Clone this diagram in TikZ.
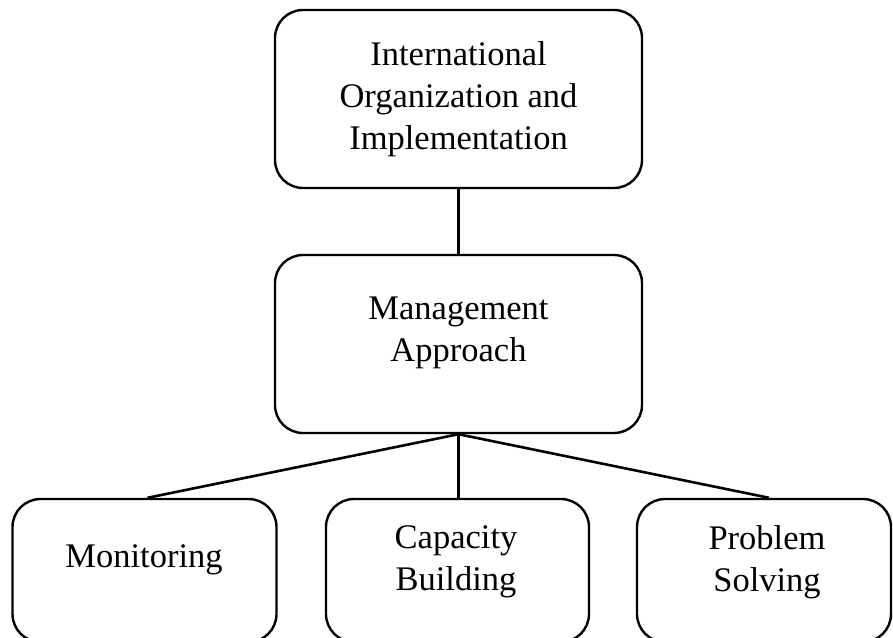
\documentclass[tikz,border=0pt]{standalone}
\usepackage{fontspec}
\setmainfont{Liberation Serif}
\begin{document}
\begin{tikzpicture}[x=1pt,y=-1pt,
  box/.style={draw, line width=2.4pt, rounded corners=28pt, inner sep=0pt},
  txt/.style={align=center, font=\fontsize{34.5}{42}\selectfont, inner sep=0pt},
  conn/.style={line width=2.6pt}]
\useasboundingbox (0,0) rectangle (893,637);
\node[box, minimum width=367pt, minimum height=178pt] (top) at (458.5,99) {};
\node[box, minimum width=367pt, minimum height=178pt] (mid) at (458.5,344) {};
\node[box, minimum width=264pt, minimum height=143pt] (bl) at (144.5,570.5) {};
\node[box, minimum width=263pt, minimum height=143pt] (bm) at (457.5,570.5) {};
\node[box, minimum width=254pt, minimum height=143pt] (br) at (764,570.5) {};
\node[txt] (ttop) at (458.5,99) {International\\Organization and\\Implementation};
\node[txt] (tmid) at (458.5,333) {Management\\Approach};
\node[txt] (tbl) at (144,560) {Monitoring};
\node[txt] (tbm) at (456,562) {Capacity\\Building};
\node[txt] (tbr) at (767,562) {Problem\\Solving};
\draw[conn] (top.south) -- (mid.north);
\draw[conn] (mid.south) -- ([xshift=3pt]bl.north);
\draw[conn] (mid.south) -- (mid.south |- bm.north);
\draw[conn] (mid.south) -- ([xshift=5pt]br.north);
\end{tikzpicture}
\end{document}
